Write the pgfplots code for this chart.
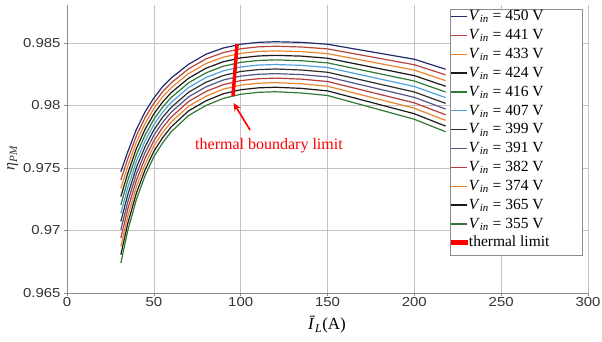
\documentclass[border=0pt]{standalone}
\usepackage{pgfplots}
\pgfplotsset{compat=1.18}
\usepackage{pgfplotstable}
\usepackage{fontspec}
\setmainfont{Liberation Serif}
\newfontfamily\tickfont{Liberation Sans}
\usetikzlibrary{calc,arrows.meta}

\definecolor{cNavy}{HTML}{232A6E}
\definecolor{cBrick}{HTML}{B4453F}
\definecolor{cOrange}{HTML}{E8852C}
\definecolor{cBlack}{HTML}{1A1A1A}
\definecolor{cGreen}{HTML}{2F7A34}
\definecolor{cSky}{HTML}{4DA3E0}
\definecolor{cDark}{HTML}{2E2E2E}
\definecolor{cSlate}{HTML}{56558A}
\definecolor{cRed}{HTML}{B43C3C}
\definecolor{cGridLine}{HTML}{C4C4C4}
\definecolor{cAxisLine}{HTML}{8C8C8C}
\definecolor{cTick}{HTML}{333333}

% efficiency vs. average load current, one column per input voltage
\pgfplotstableread{
I   v450    v441    v433    v424    v416    v407    v399    v391    v382    v374    v365    v355
31  0.97470 0.97404 0.97337 0.97271 0.97204 0.97138 0.97072 0.97005 0.96939 0.96872 0.96806 0.96740
35  0.97630 0.97573 0.97515 0.97458 0.97401 0.97344 0.97286 0.97229 0.97172 0.97114 0.97057 0.97000
40  0.97810 0.97759 0.97708 0.97657 0.97606 0.97555 0.97505 0.97454 0.97403 0.97352 0.97301 0.97250
45  0.97950 0.97904 0.97857 0.97811 0.97764 0.97718 0.97672 0.97625 0.97579 0.97532 0.97486 0.97440
50  0.98060 0.98017 0.97975 0.97932 0.97889 0.97847 0.97804 0.97761 0.97718 0.97676 0.97633 0.97590
55  0.98150 0.98109 0.98068 0.98027 0.97986 0.97945 0.97905 0.97864 0.97823 0.97782 0.97741 0.97700
60  0.98220 0.98181 0.98142 0.98103 0.98064 0.98025 0.97985 0.97946 0.97907 0.97868 0.97829 0.97790
70  0.98330 0.98293 0.98255 0.98218 0.98181 0.98144 0.98106 0.98069 0.98032 0.97994 0.97957 0.97920
80  0.98410 0.98373 0.98335 0.98298 0.98261 0.98224 0.98186 0.98149 0.98112 0.98074 0.98037 0.98000
90  0.98460 0.98423 0.98387 0.98350 0.98314 0.98277 0.98240 0.98204 0.98167 0.98131 0.98094 0.98057
100 0.98490 0.98454 0.98417 0.98381 0.98345 0.98308 0.98272 0.98235 0.98199 0.98163 0.98126 0.98090
110 0.98505 0.98469 0.98432 0.98396 0.98360 0.98323 0.98287 0.98250 0.98214 0.98178 0.98141 0.98105
120 0.98510 0.98474 0.98437 0.98401 0.98365 0.98328 0.98292 0.98255 0.98219 0.98183 0.98146 0.98110
135 0.98505 0.98468 0.98431 0.98395 0.98358 0.98321 0.98284 0.98247 0.98211 0.98174 0.98137 0.98100
150 0.98490 0.98453 0.98415 0.98378 0.98341 0.98304 0.98266 0.98229 0.98192 0.98154 0.98117 0.98080
200 0.98370 0.98326 0.98283 0.98239 0.98196 0.98152 0.98108 0.98065 0.98021 0.97978 0.97934 0.97890
218 0.98290 0.98245 0.98199 0.98154 0.98108 0.98063 0.98017 0.97972 0.97926 0.97881 0.97835 0.97790
}\effdata

\newcommand{\vin}[1]{\makebox[112pt][l]{\textit{V}\textsubscript{\textit{in}} = #1 V}}

\begin{document}
\begin{tikzpicture}
\begin{axis}[
  name=ax,
  scale only axis,
  width=521pt, height=288pt,
  xmin=0, xmax=300, ymin=0.965, ymax=0.98804,
  xtick={0,50,...,300},
  ytick={0.965,0.97,0.975,0.98,0.985},
  scaled y ticks=false,
  grid=major,
  grid style={cGridLine, line width=0.6pt},
  axis x line*=bottom, axis y line*=left,
  axis line style={cAxisLine, line width=0.7pt, -},
  tick style={cAxisLine, line width=0.6pt},
  tick align=outside, major tick length=3pt,
  /pgf/number format/assume math mode=true,
  tick label style={font=\tickfont\fontsize{13}{13}\selectfont, text=cTick},
  xticklabel={\scalebox{1.15}[1]{\pgfmathprintnumber[fixed,precision=0]{\tick}}},
  yticklabel={\scalebox{1.15}[1]{\pgfmathprintnumber[fixed,precision=3]{\tick}}},
  xticklabel style={yshift=2pt},
  xlabel={\textit{Ī}\textsubscript{\textit{L}}(A)},
  xlabel style={at={(axis description cs:0.499,-0.111)}, anchor=center, font=\fontsize{17}{17}\selectfont},
  ylabel={\textit{η}\textsubscript{\textit{PM}}},
  ylabel style={at={(axis description cs:-0.1046,0.469)}, anchor=center, font=\fontsize{16}{16}\selectfont, text=cTick},
  legend cell align=left,
  legend style={at={(axis description cs:0.9904,0.985)}, anchor=north east,
    draw=cAxisLine, line width=0.6pt, fill=white, inner sep=0.5pt,
    font=\fontsize{15.5}{15.5}\selectfont,
    nodes={inner sep=1.25pt, text height=9.4pt, text depth=6.95pt},
    row sep=0pt},
  legend image code/.code={\draw[line width=1.3pt,#1] (0pt,0.3em) -- (16pt,0.3em);},
]
\addplot[cNavy,   line width=1.2pt] table[x=I,y=v450] {\effdata}; \addlegendentry{\vin{450}}
\addplot[cBrick,  line width=1.2pt] table[x=I,y=v441] {\effdata}; \addlegendentry{\vin{441}}
\addplot[cOrange, line width=1.2pt] table[x=I,y=v433] {\effdata}; \addlegendentry{\vin{433}}
\addplot[cBlack,  line width=1.2pt] table[x=I,y=v424] {\effdata}; \addlegendentry{\vin{424}}
\addplot[cGreen,  line width=1.2pt] table[x=I,y=v416] {\effdata}; \addlegendentry{\vin{416}}
\addplot[cSky,    line width=1.2pt] table[x=I,y=v407] {\effdata}; \addlegendentry{\vin{407}}
\addplot[cDark,   line width=1.2pt] table[x=I,y=v399] {\effdata}; \addlegendentry{\vin{399}}
\addplot[cSlate,  line width=1.2pt] table[x=I,y=v391] {\effdata}; \addlegendentry{\vin{391}}
\addplot[cRed,    line width=1.2pt] table[x=I,y=v382] {\effdata}; \addlegendentry{\vin{382}}
\addplot[cOrange, line width=1.2pt] table[x=I,y=v374] {\effdata}; \addlegendentry{\vin{374}}
\addplot[cBlack,  line width=1.2pt] table[x=I,y=v365] {\effdata}; \addlegendentry{\vin{365}}
\addplot[cGreen,  line width=1.2pt] table[x=I,y=v355] {\effdata}; \addlegendentry{\vin{355}}
% thermal boundary across the family of curves
\addplot[red, line width=3.5pt, forget plot]
  coordinates {(95.6,0.98076) (97.9,0.98492)};
\addlegendimage{legend image code/.code={\fill[red] (0pt,0.3em-2pt) rectangle (16pt,0.3em+2pt);}}
\addlegendentry{thermal limit}
\draw[red, line width=1.6pt, -{Stealth[length=8pt,width=7pt]}]
  (axis cs:105.4,0.97804) -- (axis cs:95.9,0.98020);
\node[red, anchor=base, font=\fontsize{16}{16}\selectfont]
  at (axis cs:116.3,0.97650) {thermal boundary limit};
\end{axis}
\pgfresetboundingbox
\path[use as bounding box] ($(ax.south west)+(-67pt,-49pt)$) rectangle ($(ax.north east)+(14pt,5pt)$);
\end{tikzpicture}
\end{document}
